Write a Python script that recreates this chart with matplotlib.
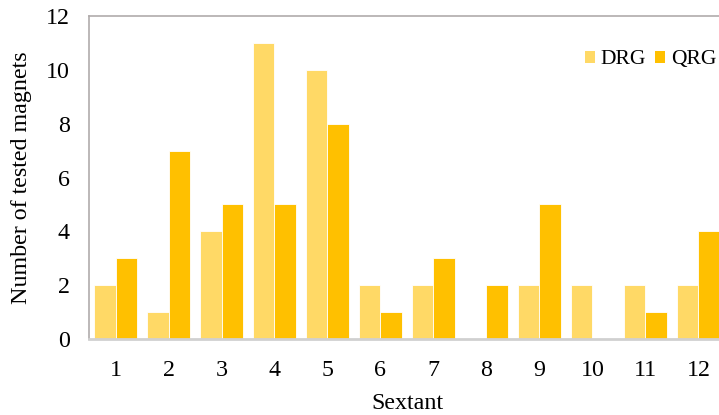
import matplotlib.pyplot as plt
import numpy as np

# tested magnets per sextant
sextants = [str(i) for i in range(1, 13)]
drg = [2, 1, 4, 11, 10, 2, 2, 0, 2, 2, 2, 2]
qrg = [3, 7, 5, 5, 8, 1, 3, 2, 5, 0, 1, 4]

plt.rcParams['font.family'] = ['Liberation Serif', 'DejaVu Serif']

fig = plt.figure(figsize=(7.19, 4.15), dpi=100)
ax = fig.add_axes([0.1238, 0.1831, 0.8845, 0.7783])

x = np.arange(len(sextants))
w = 0.4
ax.bar(x - w / 2, drg, w, color='#FFD966', edgecolor='white', linewidth=0.6, label='DRG')
ax.bar(x + w / 2, qrg, w, color='#FFC000', edgecolor='white', linewidth=0.6, label='QRG')

ax.set_xlim(-0.5, len(sextants) - 0.5)
ax.set_ylim(0, 12)
ax.set_yticks(range(0, 13, 2))
ax.set_xticks(x)
ax.set_xticklabels(sextants)
ax.tick_params(axis='both', length=0, labelsize=17.3, colors='black')
ax.tick_params(axis='x', pad=15)
ax.tick_params(axis='y', pad=14)

for side in ['left', 'top', 'right']:
    ax.spines[side].set_color('#B0ABAB')
    ax.spines[side].set_linewidth(1.2)
ax.spines['bottom'].set_color('#D0D0D0')
ax.spines['bottom'].set_linewidth(2)

ax.set_xlabel('Sextant', fontsize=17.3, labelpad=9)
ax.set_ylabel('Number of tested magnets', fontsize=17.3, labelpad=10)

leg = ax.legend(loc='center right', bbox_to_anchor=(0.986, 0.864), ncol=2, frameon=False,
                fontsize=15.5, handlelength=0.47, handleheight=0.47, handletextpad=0.25,
                columnspacing=0.45, borderpad=0, borderaxespad=0)
for h in leg.legend_handles:
    h.set_linewidth(0)

fig.savefig('out.png', dpi=100)
